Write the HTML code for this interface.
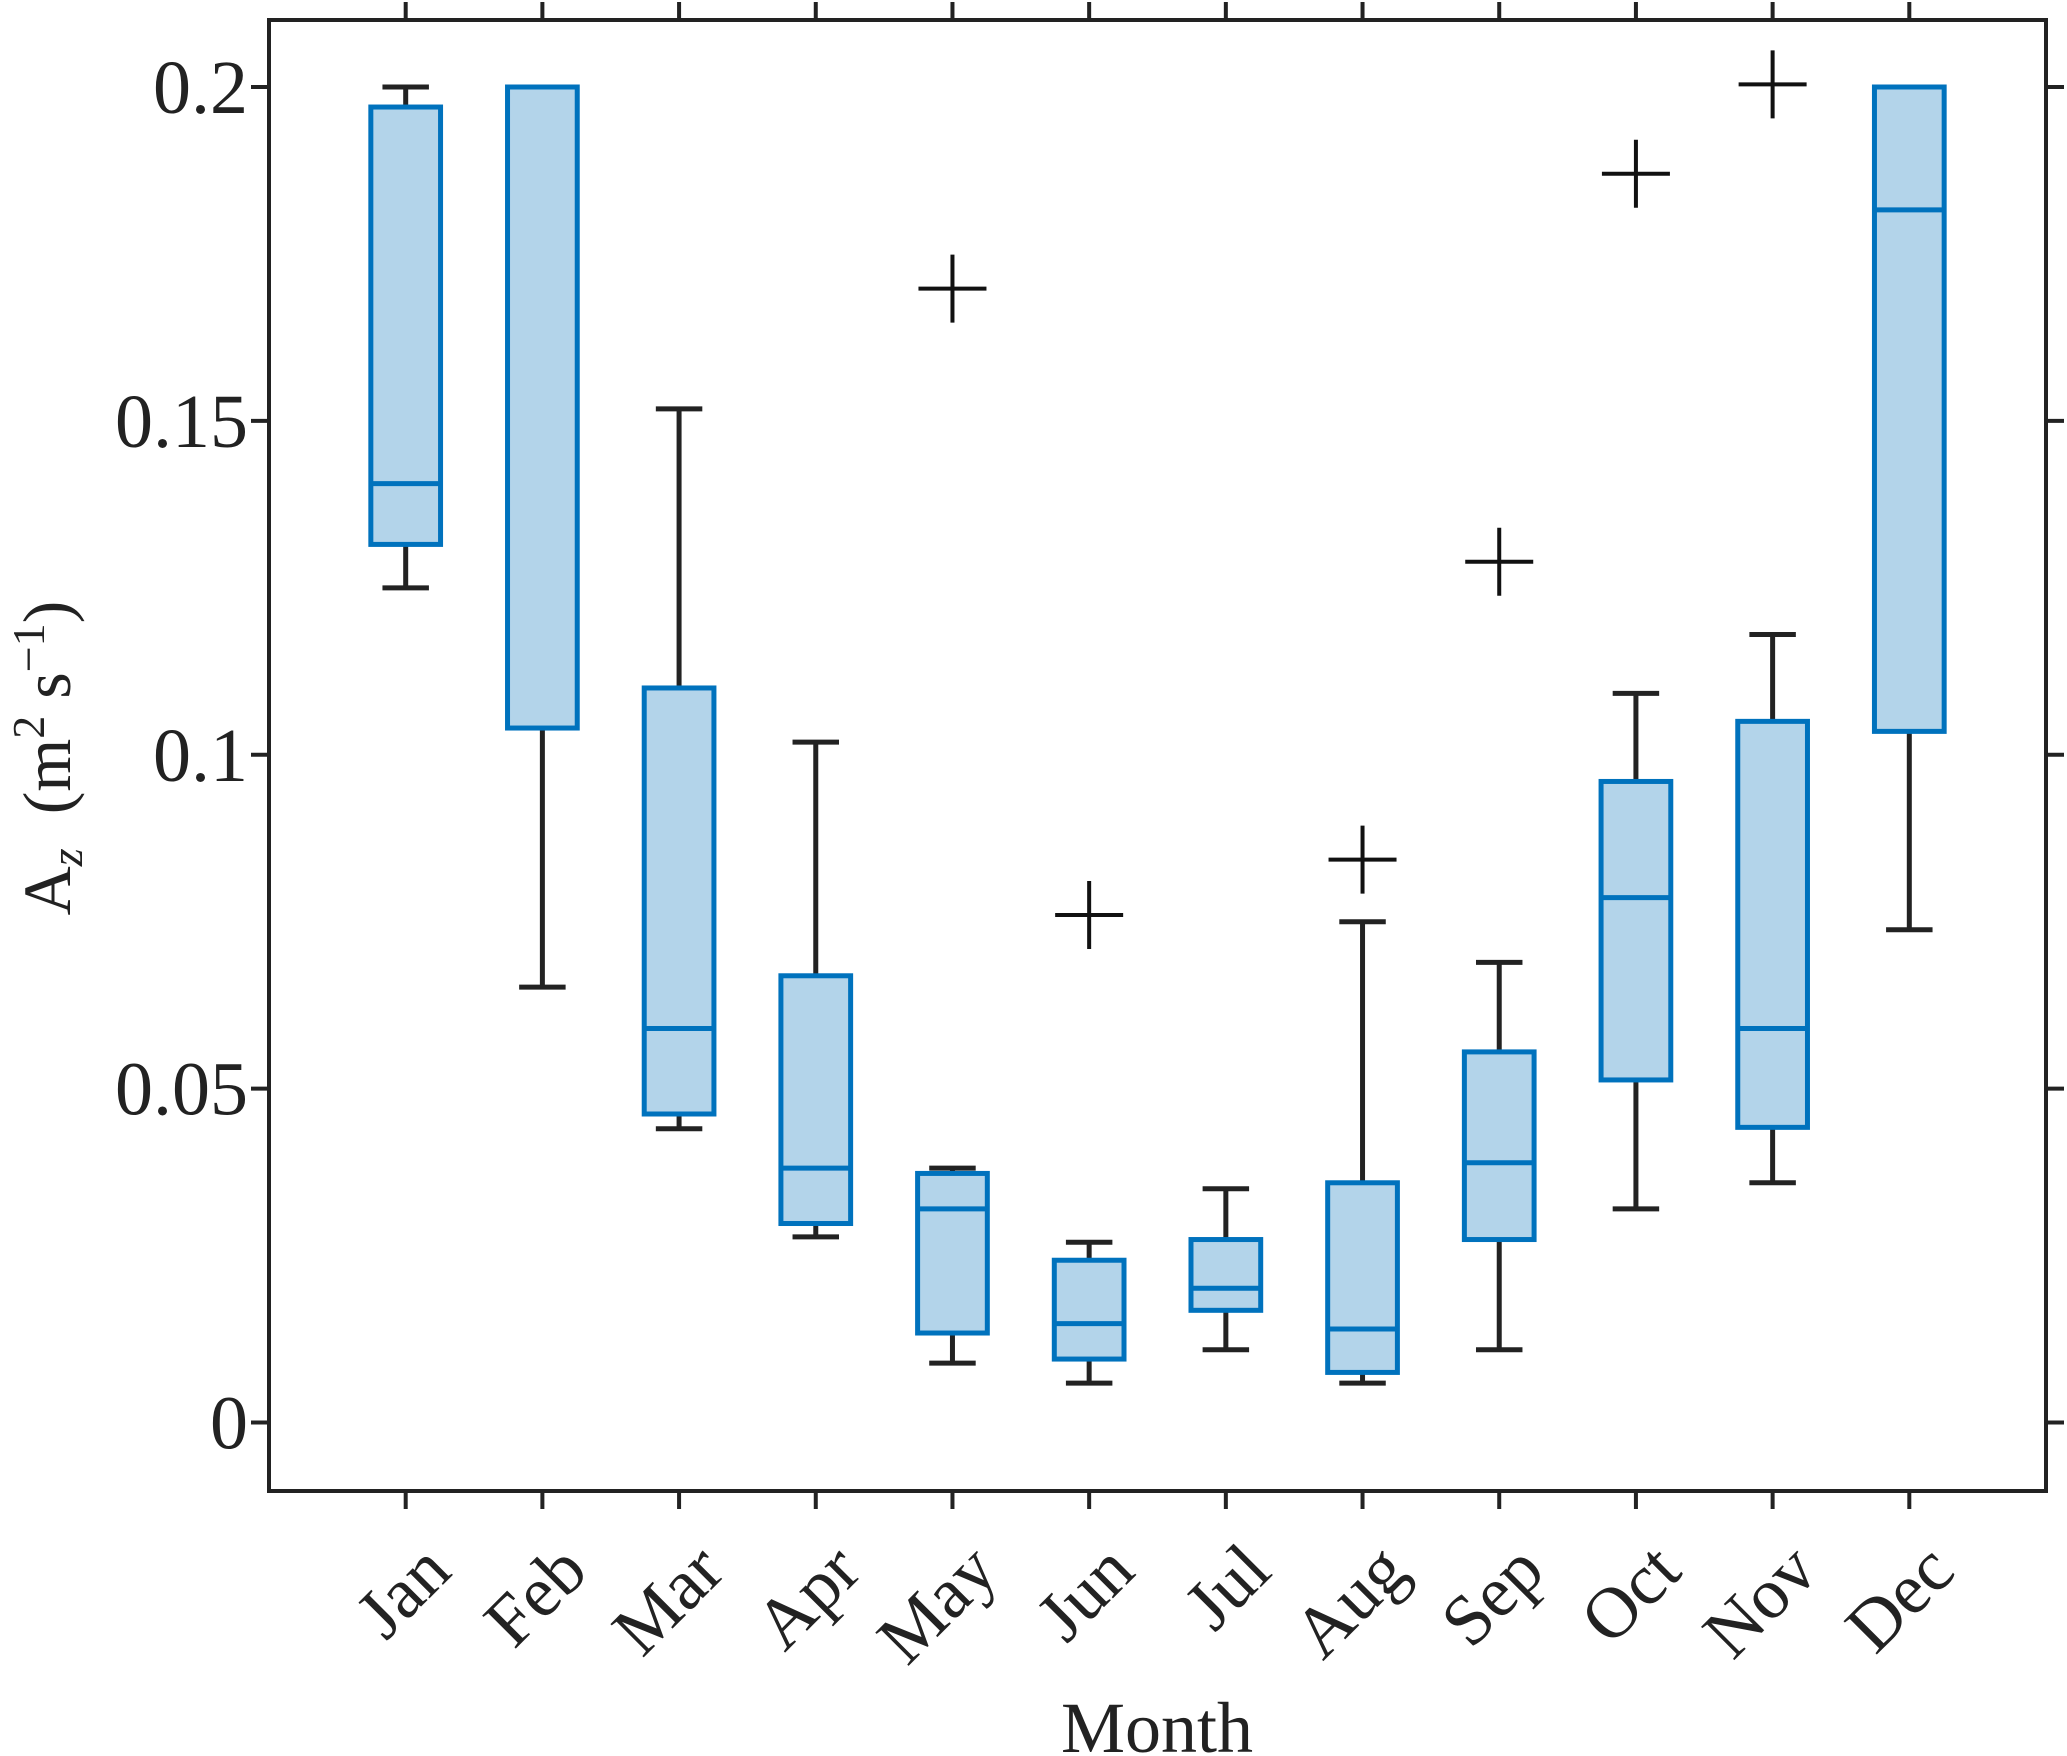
<!DOCTYPE html>
<html><head><meta charset="utf-8"><style>
html,body{margin:0;padding:0;background:#fff;}
svg{display:block;}
text{font-family:"Liberation Serif",serif;fill:#222;}
</style></head><body>
<svg id="chart" width="2067" height="1756" viewBox="0 0 2067 1756" xmlns="http://www.w3.org/2000/svg">
<g id="marks"></g>
<g id="axes"></g>
<text x="1157" y="1752" text-anchor="middle" font-size="72">Month</text>
<text transform="translate(70,758) rotate(-90)" text-anchor="middle" font-size="68">A<tspan font-size="46" dy="12" font-style="italic">z</tspan><tspan dy="-12" xml:space="preserve">  (m</tspan><tspan font-size="46" dy="-26">2</tspan><tspan dy="26" xml:space="preserve"> s</tspan><tspan font-size="46" dy="-26">−1</tspan><tspan dy="26">)</tspan></text>
</svg>
<script>
const categories=["Jan","Feb","Mar","Apr","May","Jun","Jul","Aug","Sep","Oct","Nov","Dec"];
const lowWhisker=[0.125,0.0652,0.044,0.0278,0.0089,0.0059,0.0109,0.0059,0.0109,0.032,0.0359,0.0738];
const q1=[0.1315,0.104,0.0462,0.0298,0.0134,0.0095,0.0168,0.0075,0.0274,0.0513,0.0442,0.1035];
const medians=[0.1406,0.2,0.059,0.0381,0.032,0.0148,0.0201,0.014,0.0389,0.0786,0.059,0.1816];
const q3=[0.197,0.2,0.11,0.0669,0.0373,0.0243,0.0274,0.0359,0.0555,0.096,0.105,0.2];
const highWhisker=[0.2,0.2,0.1518,0.1019,0.0381,0.027,0.035,0.075,0.0689,0.1092,0.118,0.2];
const outlierMonth=[5,6,8,9,10,11];
const outlierValue=[0.1698,0.076,0.0843,0.1289,0.187,0.2004];
const yTicks=[0,0.05,0.1,0.15,0.2];
const yTickLabels=["0","0.05","0.1","0.15","0.2"];

const L=269,R=2046,T=20,B=1491;
const y0px=1422.5,yScale=6677.5;
function X(i){return L+(R-L)*(i)/13;}
function Y(v){return y0px-v*yScale;}
const NS="http://www.w3.org/2000/svg";
function mk(tag,attrs,parent){const e=document.createElementNS(NS,tag);for(const k in attrs)e.setAttribute(k,attrs[k]);parent.appendChild(e);return e;}
const marks=document.getElementById('marks'),axes=document.getElementById('axes');
const unit=(R-L)/13, hw=0.255*unit, cap=0.17*unit;
categories.forEach((c,i)=>{
  const cx=X(i+1);
  const g=mk('g',{},marks);
  
  
  const st={stroke:'#222','stroke-width':5,fill:'none'};
  const w1=mk('line',Object.assign({x1:cx,x2:cx,y1:Y(q3[i]),y2:Y(highWhisker[i])},st),g);
  
  
  const c1=mk('line',Object.assign({x1:cx-cap,x2:cx+cap,y1:Y(highWhisker[i]),y2:Y(highWhisker[i])},st),g);
  
  
  const w2=mk('line',Object.assign({x1:cx,x2:cx,y1:Y(q1[i]),y2:Y(lowWhisker[i])},st),g);
  
  
  const c2=mk('line',Object.assign({x1:cx-cap,x2:cx+cap,y1:Y(lowWhisker[i]),y2:Y(lowWhisker[i])},st),g);
  
  
  const r=mk('rect',{x:cx-hw,y:Y(q3[i]),width:2*hw,height:Y(q1[i])-Y(q3[i]),fill:'#B3D4EA',stroke:'#0072BD','stroke-width':5},g);
  
  
  const m=mk('line',{x1:cx-hw,x2:cx+hw,y1:Y(medians[i]),y2:Y(medians[i]),stroke:'#0072BD','stroke-width':5},g);
  
  
});
outlierMonth.forEach((mi,k)=>{
  const cx=X(mi),cy=Y(outlierValue[k]),s=34;
  const p=mk('path',{d:`M${cx-s},${cy}H${cx+s}M${cx},${cy-s}V${cy+s}`,stroke:'#111','stroke-width':4,fill:'none'},marks);
  
  
});
const frame=mk('rect',{x:L,y:T,width:R-L,height:B-T,fill:'none',stroke:'#222','stroke-width':4},axes);


yTicks.forEach((v,k)=>{
  const y=Y(v);
  mk('path',{d:`M${L-18},${y}H${L}M${R},${y}H${R+18}`,stroke:'#222','stroke-width':4},axes);
  const t=mk('text',{x:248,y:y+26,'text-anchor':'end','font-size':76},axes);
  t.textContent=yTickLabels[k];
  
  
});
categories.forEach((c,i)=>{
  const x=X(i+1);
  mk('path',{d:`M${x},${B}V${B+18}M${x},${T}V${T-18}`,stroke:'#222','stroke-width':4},axes);
  const t=mk('text',{'text-anchor':'end','font-size':72,transform:`translate(${x+48},${1574}) rotate(-45)`},axes);
  t.textContent=c;
  
  
});
</script>
</body></html>
